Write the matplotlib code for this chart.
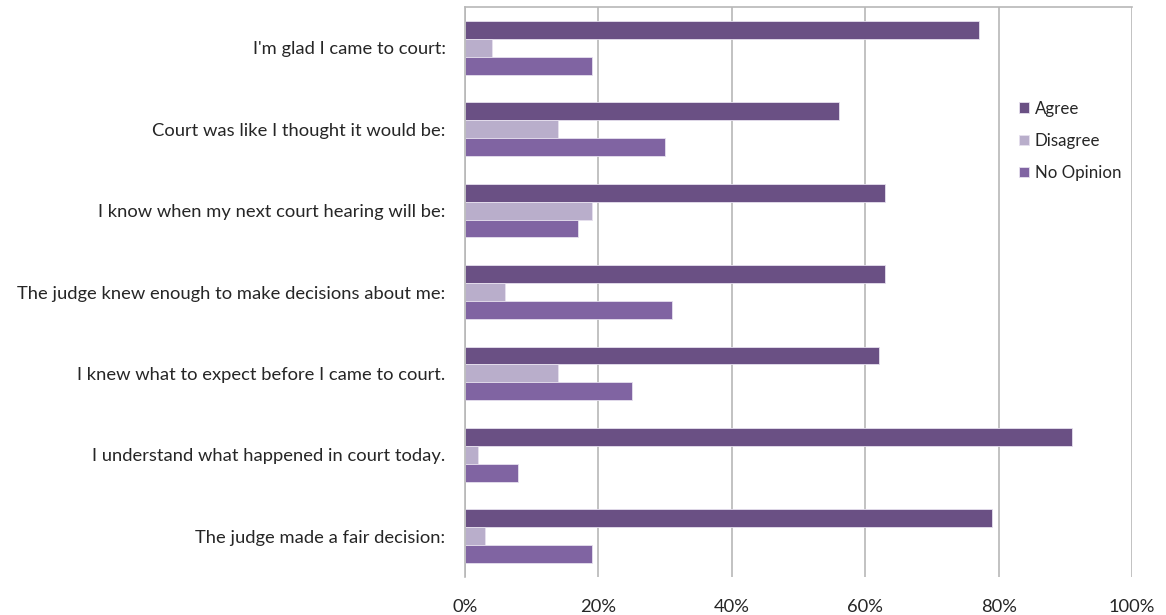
import matplotlib
matplotlib.use("Agg")
import matplotlib.pyplot as plt
import numpy as np

categories = [
    "I'm glad I came to court:",
    "Court was like I thought it would be:",
    "I know when my next court hearing will be:",
    "The judge knew enough to make decisions about me:",
    "I knew what to expect before I came to court.",
    "I understand what happened in court today.",
    "The judge made a fair decision:",
]
agree = [77, 56, 63, 63, 62, 91, 79]
disagree = [4, 14, 19, 6, 14, 2, 3]
no_opinion = [19, 30, 17, 31, 25, 8, 19]
series_names = ["Agree", "Disagree", "No Opinion"]
colors = ["#6a5084", "#b9aecb", "#8064a2"]
xticks = [0, 20, 40, 60, 80, 100]
xtick_labels = ["0%", "20%", "40%", "60%", "80%", "100%"]

plt.rcParams['font.family'] = ['Lato', 'DejaVu Sans']
fig = plt.figure(figsize=(11.66, 6.15), dpi=100)
ax = fig.add_axes([465/1166, 1-577/615, (1132-465)/1166, (577-7)/615])

y = np.arange(len(categories))
h = 0.22
for i, (vals, name, c) in enumerate(zip([agree, disagree, no_opinion], series_names, colors)):
    ax.barh(y + (i - 1) * h, vals, height=h, color=c, label=name,
            edgecolor="#e6e0ee", linewidth=0.6)

fs = 13.2
ax.set_xlim(0, 100)
ax.set_ylim(len(categories) - 0.5, -0.5)
ax.set_xticks(xticks)
ax.set_xticklabels(xtick_labels)
ax.set_yticks(y)
ax.set_yticklabels(categories)
ax.tick_params(axis='y', length=0, pad=14, labelsize=fs, labelcolor="#262626")
ax.tick_params(axis='x', length=0, pad=16, labelsize=fs, labelcolor="#262626")
ax.xaxis.grid(True, color="#b8b8b8", linewidth=1.2)
ax.set_axisbelow(True)
for s in ["bottom", "right"]:
    ax.spines[s].set_visible(False)
for s in ["left", "top"]:
    ax.spines[s].set_color("#b8b8b8")
    ax.spines[s].set_linewidth(1.2)

leg = ax.legend(loc="upper left", bbox_to_anchor=((1012-465)/667, 1-(94-7)/570),
                frameon=False, fontsize=12.2, handlelength=0.6, handleheight=0.6,
                labelspacing=0.95, handletextpad=0.35, borderaxespad=0)
for t in leg.get_texts():
    t.set_color("#262626")

fig.savefig("out.png", dpi=100)
